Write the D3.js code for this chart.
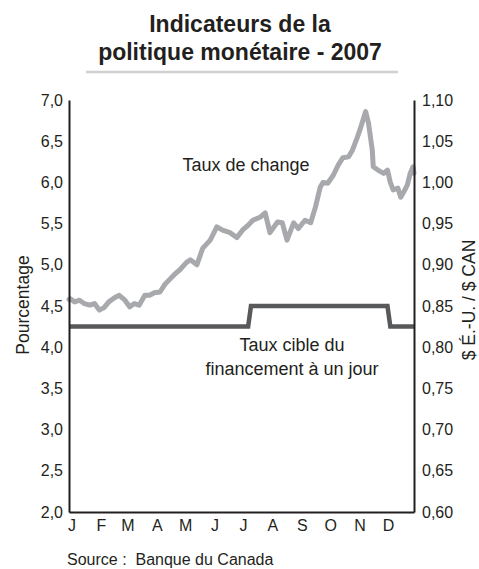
<!DOCTYPE html>
<html>
<head>
<meta charset="utf-8">
<script src="https://cdnjs.cloudflare.com/ajax/libs/d3/7.8.5/d3.min.js"></script>
<style>
	body { margin: 0; background: #fff; }
	svg text { font-family: "Liberation Sans", Arial, sans-serif; fill: #231f20; }
	.title { font-size: 23px; font-weight: bold; }
	.tick text { font-size: 16px; }
	.note { font-size: 18px; }
	.axisTitle { font-size: 17.5px; }
	.source { font-size: 16px; }
</style>
</head>
<body>
<div id="chart"></div>
<script>
// data
var monthLabels = ["J","F","M","A","M","J","J","A","S","O","N","D"];
var leftTicks = [2.0,2.5,3.0,3.5,4.0,4.5,5.0,5.5,6.0,6.5,7.0];
var rightTicks = [0.60,0.65,0.70,0.75,0.80,0.85,0.90,0.95,1.00,1.05,1.10];

// overnight target rate (%)
var rateDates = ["2007-01-01","2007-07-09","2007-07-12","2007-12-03","2007-12-06","2007-12-31"];
var rateValues = [4.25,4.25,4.50,4.50,4.25,4.25];

// US$ per C$
var fxDates = ["01-01","01-02","01-07","01-12","01-17","01-23","01-28","02-02","02-07","02-12","02-18","02-23",
	"03-01","03-06","03-11","03-16","03-22","03-27","04-01","04-07","04-12","04-17","04-22","04-28",
	"05-05","05-09","05-16","05-22","05-30","06-06","06-12","06-20","06-27","07-03","07-09","07-14",
	"07-22","07-27","08-01","08-09","08-14","08-19","08-26","08-31","09-07","09-13","09-18","09-23",
	"09-26","10-01","10-07","10-12","10-17","10-23","10-27","11-01","11-04","11-10","11-13","11-17",
	"11-18","11-23","11-29","12-03","12-06","12-09","12-14","12-17","12-20","12-24","12-27","12-30","12-31"];
var fxValues = [0.858,0.859,0.855,0.857,0.853,0.851,0.853,0.845,0.848,0.855,0.860,0.863,
	0.857,0.849,0.853,0.851,0.863,0.863,0.866,0.867,0.876,0.882,0.888,0.894,
	0.903,0.906,0.900,0.920,0.930,0.946,0.942,0.939,0.933,0.942,0.948,0.954,
	0.958,0.963,0.939,0.952,0.951,0.930,0.951,0.944,0.954,0.951,0.970,0.994,
	1.000,0.999,1.009,1.021,1.030,1.031,1.039,1.054,1.064,1.086,1.072,1.039,
	1.019,1.015,1.011,1.015,1.000,0.991,0.993,0.982,0.988,0.997,1.011,1.019,1.011];

var parse = d3.timeParse("%Y-%m-%d");
var rate = rateDates.map(function(d,i){ return {date: parse(d), v: rateValues[i]}; });
var fx = fxDates.map(function(d,i){ return {date: parse("2007-" + d), v: fxValues[i]}; });

var fr = d3.formatLocale({decimal: ",", thousands: " ", grouping: [3], currency: ["", " $"]});

var width = 479, height = 569;
var plot = {left: 69, right: 414, top: 100, bottom: 512};

var svg = d3.select("#chart").append("svg")
	.attr("width", width)
	.attr("height", height);

var x = d3.scaleTime()
	.domain([parse("2007-01-01"), parse("2007-12-31")])
	.range([plot.left, plot.right]);
var yL = d3.scaleLinear().domain([2, 7]).range([plot.bottom, plot.top]);
var yR = d3.scaleLinear().domain([0.60, 1.10]).range([plot.bottom, plot.top]);

// title
svg.append("text").attr("class","title").attr("x",240).attr("y",32)
	.attr("text-anchor","middle").text("Indicateurs de la");
svg.append("text").attr("class","title").attr("x",240).attr("y",60)
	.attr("text-anchor","middle").text("politique monétaire - 2007");
svg.append("line")
	.attr("x1",86).attr("x2",398).attr("y1",72).attr("y2",72)
	.attr("stroke","#cfd0d2").attr("stroke-width",2.5);

// lines
svg.append("path")
	.datum(rate)
	.attr("fill","none")
	.attr("stroke","#58595b")
	.attr("stroke-width",4.5)
	.attr("d", d3.line().x(function(d){ return x(d.date); }).y(function(d){ return yL(d.v); }));

svg.append("path")
	.datum(fx)
	.attr("fill","none")
	.attr("stroke","#a7a9ac")
	.attr("stroke-width",5)
	.attr("stroke-linejoin","round")
	.attr("stroke-linecap","round")
	.attr("d", d3.line().x(function(d){ return x(d.date); }).y(function(d){ return yR(d.v); }));

// axes
var axL = svg.append("g")
	.attr("transform","translate(" + plot.left + ",0)")
	.call(d3.axisLeft(yL).tickValues(leftTicks).tickSize(0).tickSizeOuter(0).tickPadding(6)
		.tickFormat(fr.format(".1f")));
var axR = svg.append("g")
	.attr("transform","translate(" + plot.right + ",0)")
	.call(d3.axisRight(yR).tickValues(rightTicks).tickSize(0).tickSizeOuter(0).tickPadding(8)
		.tickFormat(fr.format(".2f")));
var axB = svg.append("g")
	.attr("transform","translate(0," + plot.bottom + ")")
	.call(d3.axisBottom(x).ticks(d3.timeMonth.every(1)).tickSize(0).tickSizeOuter(0).tickPadding(8)
		.tickFormat(function(d){ return monthLabels[d.getMonth()]; }));

[axL, axR, axB].forEach(function(a){
	a.select(".domain").attr("stroke","#231f20").attr("stroke-width",2);
	a.selectAll(".tick text").attr("fill","#231f20");
});
axB.selectAll(".tick text").attr("dx", 2.5);

// notes
svg.append("text").attr("class","note").attr("x",246).attr("y",171)
	.attr("text-anchor","middle").text("Taux de change");
svg.append("text").attr("class","note").attr("x",292).attr("y",351)
	.attr("text-anchor","middle").text("Taux cible du");
svg.append("text").attr("class","note").attr("x",292).attr("y",375)
	.attr("text-anchor","middle").text("financement à un jour");

// axis titles
svg.append("text").attr("class","axisTitle")
	.attr("transform","translate(29,305) rotate(-90)")
	.attr("text-anchor","middle").text("Pourcentage");
svg.append("text").attr("class","axisTitle")
	.attr("transform","translate(475,300) rotate(-90)")
	.attr("text-anchor","middle").text("$ É.-U. / $ CAN");

svg.append("text").attr("class","source").attr("x",67).attr("y",565)
	.text("Source :  Banque du Canada").style("white-space","pre");
</script>
</body>
</html>
